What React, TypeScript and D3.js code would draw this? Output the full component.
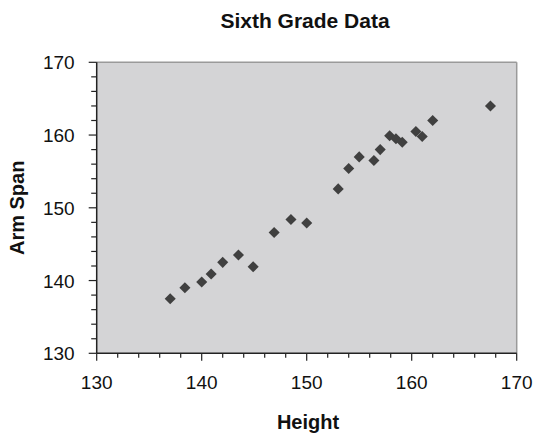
import React from "react";
import * as d3 from "d3";

const heights = [137.0, 138.4, 140.0, 140.9, 142.0, 143.5, 144.9, 146.9, 148.5, 150.0, 153.0, 154.0, 155.0, 156.4, 157.0, 157.9, 158.5, 159.1, 160.4, 161.0, 162.0, 167.5];
const armSpans = [137.5, 139.0, 139.8, 140.9, 142.5, 143.5, 141.9, 146.6, 148.4, 147.9, 152.6, 155.4, 157.0, 156.5, 158.0, 159.9, 159.5, 159.0, 160.5, 159.8, 162.0, 164.0];
const xTicks = [130, 140, 150, 160, 170];
const yTicks = [130, 140, 150, 160, 170];

const W = 535, H = 438;
const left = 96.7, right = 516.7, top = 62.3, bottom = 353.3;
const FONT = "Liberation Sans, Arial, sans-serif";

export default function App() {
  const x = d3.scaleLinear().domain([130, 170]).range([left, right]);
  const y = d3.scaleLinear().domain([130, 170]).range([bottom, top]);
  const minor = d3.range(130, 170.01, 2);
  const diamond = d3.symbol().type(d3.symbolDiamond2).size(78)();
  return (
    <svg width={W} height={H} style={{ position: "absolute", left: 0, top: 0 }} fontFamily={FONT}>
      <rect x={0} y={0} width={W} height={H} fill="#fff" />
      <rect x={left} y={top} width={right - left} height={bottom - top} fill="#d4d4d6" />
      <line x1={left} y1={top} x2={right} y2={top} stroke="#9a9a9a" strokeWidth={1.5} />
      <line x1={right} y1={top} x2={right} y2={bottom} stroke="#9a9a9a" strokeWidth={1.5} />
      {minor.map((v) => (
        <g key={"m" + v}>
          <line x1={x(v)} x2={x(v)} y1={bottom} y2={bottom + (v % 10 === 0 ? 7.5 : 4.5)} stroke="#222" strokeWidth={1.2} />
          <line y1={y(v)} y2={y(v)} x1={left} x2={left - (v % 10 === 0 ? 8 : 5.5)} stroke="#222" strokeWidth={1.2} />
        </g>
      ))}
      <line x1={left} y1={top} x2={left} y2={bottom} stroke="#222" strokeWidth={1.5} />
      <line x1={left} y1={bottom} x2={right} y2={bottom} stroke="#222" strokeWidth={1.5} />
      {xTicks.map((v) => (
        <text key={"xt" + v} x={x(v)} y={bottom + 36} textAnchor="middle" fontSize={19} fill="#111">{v}</text>
      ))}
      {yTicks.map((v) => (
        <text key={"yt" + v} x={left - 22} y={y(v) + 7} textAnchor="end" fontSize={19} fill="#111">{v}</text>
      ))}
      {heights.map((h, i) => (
        <path key={i} d={diamond} transform={`translate(${x(h)},${y(armSpans[i])})`} fill="#404040" />
      ))}
      <text x={305} y={28} textAnchor="middle" fontSize={21} fontWeight="bold" fill="#111">Sixth Grade Data</text>
      <text x={308} y={429} textAnchor="middle" fontSize={20} fontWeight="bold" fill="#111">Height</text>
      <text transform={`translate(24,${(top + bottom) / 2}) rotate(-90)`} textAnchor="middle" fontSize={20} fontWeight="bold" fill="#111">Arm Span</text>
    </svg>
  );
}
